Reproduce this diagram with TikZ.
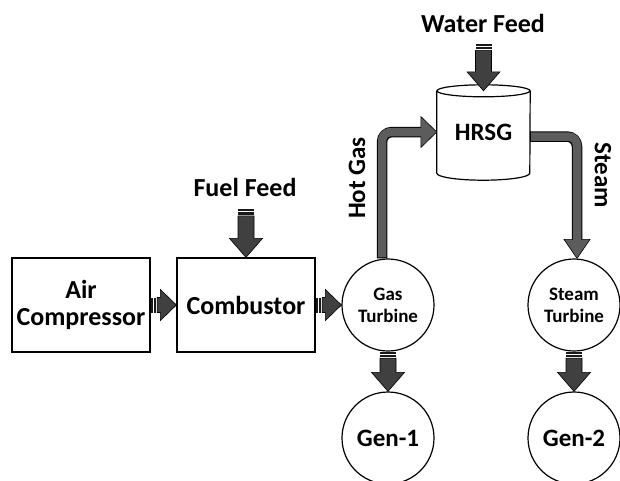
\documentclass[tikz,border=0pt]{standalone}
\usepackage{fontspec}
\setmainfont{Carlito}
\usetikzlibrary{calc}
\definecolor{arrowgray}{HTML}{404040}
\definecolor{pipegray}{HTML}{5C5C5C}
\newcommand\hfat[2]{%
  \fill[black!90] ($(#1)+(0,-7.5)$) rectangle ($(#1)+(2,7.5)$);
  \fill[black!90] ($(#1)+(3,-7.5)$) rectangle ($(#1)+(5.5,7.5)$);
  \filldraw[fill=arrowgray,draw=black,line width=.6] ($(#1)+(6.5,-7.5)$) -- ($(#2)+(-16,-7.5)$) -- ($(#2)+(-16,-15.5)$) -- (#2) -- ($(#2)+(-16,15.5)$) -- ($(#2)+(-16,7.5)$) -- ($(#1)+(6.5,7.5)$) -- cycle;}
\newcommand\vfat[2]{%
  \fill[black!90] ($(#1)+(-8,0)$) rectangle ($(#1)+(8,2)$);
  \fill[black!90] ($(#1)+(-8,3)$) rectangle ($(#1)+(8,5.5)$);
  \filldraw[fill=arrowgray,draw=black,line width=.6] ($(#1)+(-8,6.5)$) -- ($(#2)+(-8,-19)$) -- ($(#2)+(-16.5,-19)$) -- (#2) -- ($(#2)+(16.5,-19)$) -- ($(#2)+(8,-19)$) -- ($(#1)+(8,6.5)$) -- cycle;}
\tikzset{
  box/.style={draw,line width=1.2,minimum width=138,minimum height=94,align=center,font=\fontsize{26}{27}\selectfont\bfseries},
  circ/.style={draw,circle,line width=1.2,minimum size=92,inner sep=0,align=center},
  small/.style={font=\fontsize{19}{22}\selectfont\bfseries},
  big/.style={font=\fontsize{25}{28}\selectfont\bfseries},
  lbl/.style={font=\fontsize{26}{28}\selectfont\bfseries},
}
\begin{document}
\begin{tikzpicture}[x=1pt,y=-1pt]
\fill[white] (0,0) rectangle (620,480);
\useasboundingbox (0,0) rectangle (620,480);
\node[box] (air) at (81,305) {Air\\Compressor};
\node[box] (comb) at (246,305) {Combustor};
\node[circ,small] (gt) at (388,305) {Gas\\Turbine};
\node[circ,big] (g1) at (388,438) {Gen-1};
\node[circ,small] (st) at (574,305) {Steam\\Turbine};
\node[circ,big] (g2) at (574,438) {Gen-2};
\node[minimum width=93,minimum height=82,inner sep=0,font=\fontsize{25}{28}\selectfont\bfseries] (hrsg) at (483.5,132) {HRSG};
\draw[line width=1.2] (hrsg.north) ellipse [x radius=46.5pt,y radius=6pt];
\draw[line width=1.2] (hrsg.north west) -- (hrsg.south west) arc [start angle=180,end angle=360,x radius=46.5pt,y radius=7pt] -- (hrsg.north east);
\node[lbl] (wf) at (483,23) {Water Feed};
\node[lbl] (ff) at (245,187) {Fuel Feed};
\node[lbl,font=\fontsize{25}{28}\selectfont\bfseries,rotate=90] (hg) at (357,178) {Hot Gas};
\node[lbl,font=\fontsize{25}{28}\selectfont\bfseries,rotate=-90] (stm) at (603,175) {Steam};
\coordinate (wft) at ($(hrsg.north)+(0,-47)$);
\coordinate (fft) at ($(comb.north)+(0,-48)$);
% fat arrows
\hfat{air.east}{comb.west}
\hfat{comb.east}{gt.west}
\vfat{gt.south}{g1.north}
\vfat{st.south}{g2.north}
\vfat{wft}{hrsg.north}
\vfat{fft}{comb.north}
% hot gas pipe
\draw[line width=10.5,black,rounded corners=10] ([xshift=-6pt]gt.north) |- ($(hrsg.west)+(-15,0)$);
\filldraw[fill=pipegray,draw=black,line width=.6] ($(hrsg.west)+(-16,-15.5)$) -- (hrsg.west) -- ($(hrsg.west)+(-16,15.5)$) -- cycle;
\draw[line width=8.5,pipegray,rounded corners=9] ([xshift=-6pt,yshift=1pt]gt.north) |- ($(hrsg.west)+(-14,0)$);
% steam pipe
\draw[line width=10.5,black,rounded corners=10] ([yshift=-4.5pt]hrsg.east) -| ($(st.north)+(3,-18)$);
\filldraw[fill=pipegray,draw=black,line width=.6] ($(st.north)+(-10,-19)$) -- ([xshift=3pt]st.north) -- ($(st.north)+(16,-19)$) -- cycle;
\draw[line width=8.5,pipegray,rounded corners=9] ([yshift=-4.5pt,xshift=1pt]hrsg.east) -| ($(st.north)+(3,-17)$);
\end{tikzpicture}
\end{document}
